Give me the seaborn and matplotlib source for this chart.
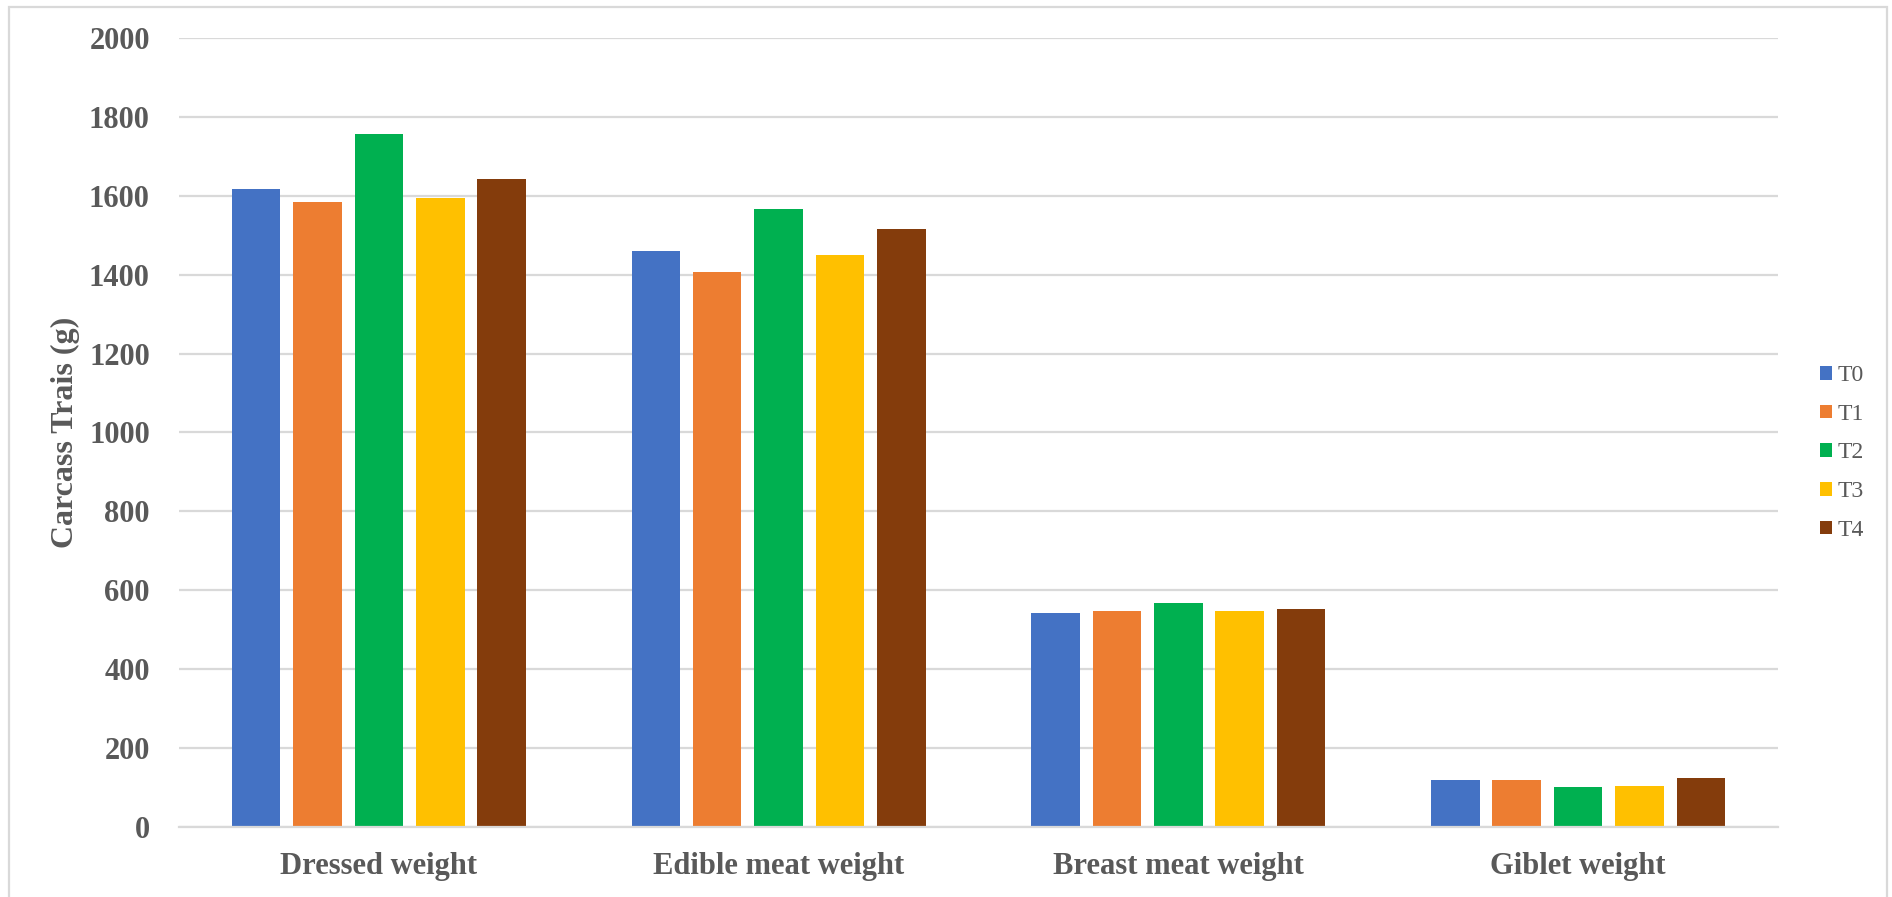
import matplotlib
matplotlib.use("Agg")
import matplotlib.pyplot as plt
from matplotlib.patches import Rectangle
import seaborn as sns
import pandas as pd

# Carcass traits per treatment group (g)
categories = ["Dressed weight", "Edible meat weight", "Breast meat weight", "Giblet weight"]
treatments = ["T0", "T1", "T2", "T3", "T4"]
t0 = [1618, 1461, 542, 118]
t1 = [1585, 1406, 548, 119]
t2 = [1757, 1568, 568, 100]
t3 = [1596, 1449, 548, 102]
t4 = [1642, 1515, 552, 123]
colors = ["#4472C4", "#ED7D31", "#00B050", "#FFC000", "#843C0C"]
y_ticks = [0, 200, 400, 600, 800, 1000, 1200, 1400, 1600, 1800, 2000]

series = {"T0": t0, "T1": t1, "T2": t2, "T3": t3, "T4": t4}
rows = []
for tr in treatments:
    for cat, val in zip(categories, series[tr]):
        rows.append({"Trait": cat, "Treatment": tr, "Value": val})
df = pd.DataFrame(rows)

sns.set_theme(style="white")
plt.rcParams["font.family"] = ["Liberation Serif", "DejaVu Serif"]
text_color = "#595959"
grid_color = "#D9D9D9"

fig = plt.figure(figsize=(18.92, 8.97), dpi=100)
ax = fig.add_axes([0.0946, 0.0785, 0.8451, 0.8788])

sns.barplot(data=df, x="Trait", y="Value", hue="Treatment", order=categories,
            hue_order=treatments, palette=colors, width=0.768, gap=0.21,
            linewidth=0, saturation=1, ax=ax, legend=True)

ax.set_xlim(-0.5, 3.5)
ax.set_ylim(0, 2000)
ax.set_yticks(y_ticks)
ax.set_axisbelow(True)
ax.yaxis.grid(True, color=grid_color, linewidth=1.6)
ax.xaxis.grid(False)
for side in ["top", "right", "left"]:
    ax.spines[side].set_visible(False)
ax.spines["bottom"].set_color(grid_color)
ax.spines["bottom"].set_linewidth(1.6)

ax.tick_params(axis="y", length=0, pad=21, labelsize=22, labelcolor=text_color)
ax.tick_params(axis="x", length=0, pad=18, labelsize=22, labelcolor=text_color)
for lab in ax.get_yticklabels() + ax.get_xticklabels():
    lab.set_fontweight("bold")

ax.set_xlabel("")
ax.set_ylabel("Carcass Trais (g)", fontsize=23, fontweight="bold", color=text_color)
ax.yaxis.set_label_coords(-0.0619, 0.5)

handles, labels = ax.get_legend_handles_labels()
ax.get_legend().remove()
fig.legend(handles, labels, loc="center left", bbox_to_anchor=(0.9556, 0.495),
           frameon=False, fontsize=17, labelcolor=text_color, borderpad=0,
           handlelength=0.52, handleheight=0.52, handletextpad=0.25,
           labelspacing=0.75)

# light outer frame around the chart
fig.patches.append(Rectangle((0.0048, -0.01), 0.9926, 1.0022, transform=fig.transFigure,
                             fill=False, edgecolor=grid_color, linewidth=1.6))

fig.savefig("out.png", dpi=100)
